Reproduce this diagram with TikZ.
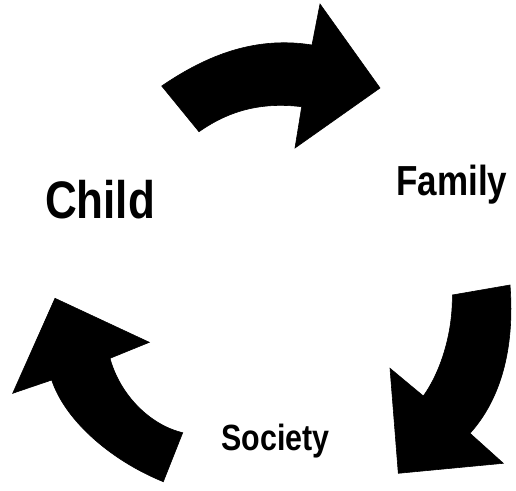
\documentclass[tikz,border=0pt]{standalone}
\usepackage{fontspec}
\setmainfont{Liberation Sans}
\begin{document}
\begin{tikzpicture}[x=1pt,y=-1pt,
  bigarrow/.style={fill=black,draw=black,line width=0.6pt,line join=miter},
  label/.style={anchor=base,inner sep=0pt,font=\bfseries}]
\useasboundingbox (0,0) rectangle (516,490);
% top arrow (Child -> Family)
\fill[bigarrow] (161.7,86) .. controls (200,60) and (250,35) .. (312,45)
  -- (320,4) -- (380,88) -- (295,148) -- (301.7,106.7)
  .. controls (262,102) and (230,110) .. (199,131.7) -- cycle;
% right arrow (Family -> Society)
\fill[bigarrow] (452.3,295) -- (510,285) .. controls (515,350) and (500,400) .. (470,433.3)
  -- (503.3,463.3) -- (398.3,473.3) -- (390,368.3) -- (423.3,396)
  .. controls (442,370) and (453,330) .. cycle;
% left arrow (Society -> Child)
\fill[bigarrow] (182.7,432.7) -- (163.3,481.7) .. controls (110,460) and (65,420) .. (51.7,380)
  -- (12.7,393.3) -- (55,298.3) -- (149.3,342.3) -- (110,358.3)
  .. controls (120,395) and (150,425) .. cycle;
\node[label] (child) at (100,218) {\scalebox{1}[1.2]{\fontsize{44}{44}\selectfont Child}};
\node[label] (family) at (452,195) {\scalebox{1}[1.2]{\fontsize{35}{35}\selectfont Family}};
\node[label] (society) at (275.5,450) {\scalebox{1}[1.2]{\fontsize{30.4}{30.4}\selectfont Society}};
\end{tikzpicture}
\end{document}
